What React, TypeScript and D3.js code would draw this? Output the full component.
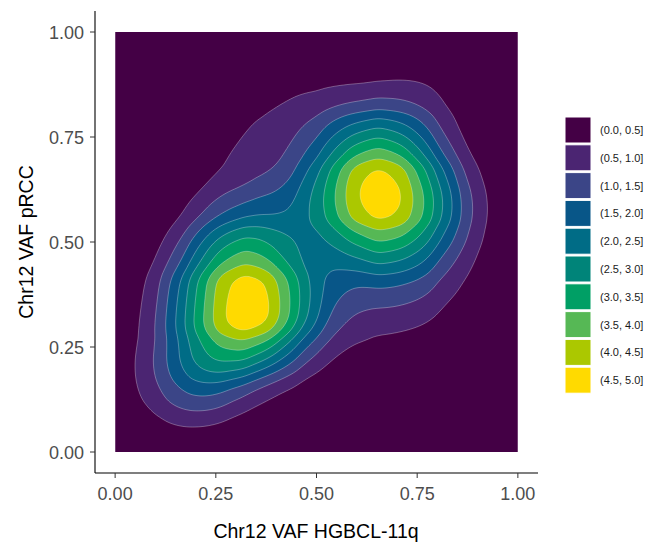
import { useMemo } from "react";
import * as d3 from "d3";

const W = 656;
const H = 543;

// density bands (ggplot style breaks)
const levels = [0, 0.5, 1, 1.5, 2, 2.5, 3, 3.5, 4, 4.5, 5];
const levelLabels = [
  "(0.0, 0.5]", "(0.5, 1.0]", "(1.0, 1.5]", "(1.5, 2.0]", "(2.0, 2.5]",
  "(2.5, 3.0]", "(3.0, 3.5]", "(3.5, 4.0]", "(4.0, 4.5]", "(4.5, 5.0]",
];
const levelColors = [
  "#440045", "#4b2572", "#3b4587", "#085688", "#006c86",
  "#008479", "#009f65", "#56b855", "#abc800", "#ffda00",
];

// estimated observations (VAF pairs) and their weights
const vafHGBCL = [
  0.322, 0.437, 0.387, 0.257, 0.192, 0.257, 0.377,
  0.652, 0.777, 0.715, 0.59, 0.527, 0.59, 0.715,
  0.2, 0.115, 0.3, 0.42, 0.31, 0.41, 0.76, 0.52, 0.82,
  0.56, 0.72, 0.82,
];
const vafPRCC = [
  0.355, 0.355, 0.468, 0.468, 0.355, 0.242, 0.26,
  0.615, 0.615, 0.736, 0.736, 0.615, 0.494, 0.494,
  0.16, 0.19, 0.55, 0.58, 0.7, 0.78, 0.86, 0.84, 0.56,
  0.33, 0.35, 0.44,
];
const obsWeight = [
  0.09, 0.055, 0.055, 0.055, 0.055, 0.055, 0.055,
  0.103, 0.055, 0.055, 0.055, 0.055, 0.055, 0.055,
  0.035, 0.016, 0.023, 0.022, 0.013, 0.016, 0.01, 0.006, 0.02,
  0.021, 0.021, 0.0106,
];

const xTicks = [0, 0.25, 0.5, 0.75, 1];
const yTicks = [0, 0.25, 0.5, 0.75, 1];

const font = "Arial, 'Liberation Sans', Helvetica, sans-serif";

export default function App() {
  const x = d3.scaleLinear().domain([-0.05, 1.05]).range([95, 538]);
  const y = d3.scaleLinear().domain([-0.05, 1.05]).range([473, 11]);

  const contours = useMemo(() => {
    // density per unit^2 in data space -> per px^2
    const pxArea = (x(1) - x(0)) * (y(0) - y(1));
    const gen = d3
      .contourDensity<number>()
      .x((i) => x(vafHGBCL[i]))
      .y((i) => y(vafPRCC[i]))
      .weight((i) => obsWeight[i])
      .size([W, H])
      .cellSize(2)
      .bandwidth(30.5)
      .thresholds(levels.slice(1, -1).map((t) => t / pxArea));
    return gen(d3.range(vafHGBCL.length));
  }, []);

  const path = d3.geoPath();
  const px0 = x(0), px1 = x(1), py0 = y(0), py1 = y(1);

  return (
    <svg width={W} height={H} style={{ position: "absolute", left: 0, top: 0, background: "#fff" }}>
      <defs>
        <clipPath id="panel">
          <rect x={px0} y={py1} width={px1 - px0} height={py0 - py1} />
        </clipPath>
      </defs>

      <g clipPath="url(#panel)">
        <rect x={px0} y={py1} width={px1 - px0} height={py0 - py1} fill={levelColors[0]} />
        {contours.map((c, i) => (
          <path
            key={i}
            d={path(c) || ""}
            fill={levelColors[i + 1]}
            stroke="#ffffff"
            strokeOpacity={0.5}
            strokeWidth={0.6}
          />
        ))}
      </g>

      {/* axes */}
      <line x1={95} x2={95} y1={11} y2={473} stroke="#000" strokeWidth={1.1} />
      <line x1={95} x2={538} y1={473} y2={473} stroke="#000" strokeWidth={1.1} />
      {yTicks.map((t) => (
        <g key={"y" + t}>
          <line x1={90} x2={95} y1={y(t)} y2={y(t)} stroke="#333" />
          <text x={84} y={y(t) + 6.5} textAnchor="end" fontSize={18} fill="#4d4d4d" fontFamily={font}>
            {t.toFixed(2)}
          </text>
        </g>
      ))}
      {xTicks.map((t) => (
        <g key={"x" + t}>
          <line x1={x(t)} x2={x(t)} y1={473} y2={478} stroke="#333" />
          <text x={x(t)} y={500} textAnchor="middle" fontSize={18} fill="#4d4d4d" fontFamily={font}>
            {t.toFixed(2)}
          </text>
        </g>
      ))}
      <text x={316} y={538} textAnchor="middle" fontSize={19.5} fill="#000" fontFamily={font}>
        Chr12 VAF HGBCL-11q
      </text>
      <text
        transform={`translate(33,242) rotate(-90)`}
        textAnchor="middle"
        fontSize={19.5}
        fill="#000"
        fontFamily={font}
      >
        Chr12 VAF pRCC
      </text>

      {/* legend */}
      {levelLabels.map((lab, i) => {
        const top = 117 + i * 27.8;
        return (
          <g key={lab}>
            <rect x={565} y={top} width={26} height={26} fill={levelColors[i]} stroke="#fff" strokeWidth={1} />
            <text x={600} y={top + 17} fontSize={11} fill="#1a1a1a" fontFamily={font}>
              {lab}
            </text>
          </g>
        );
      })}
    </svg>
  );
}
